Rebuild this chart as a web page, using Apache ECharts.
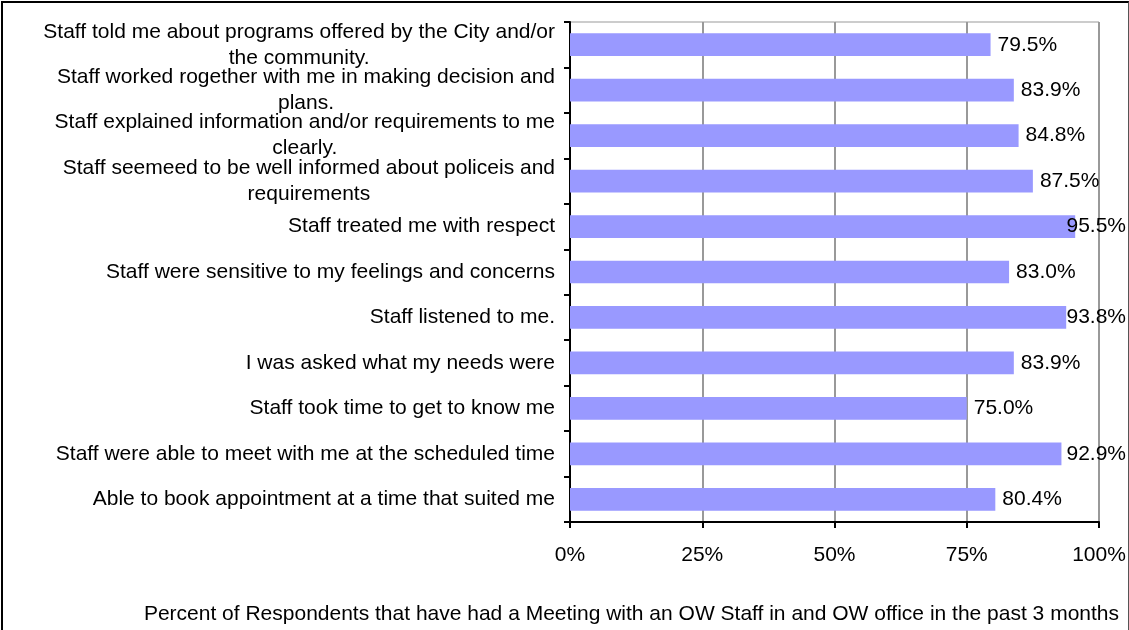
<!DOCTYPE html>
<html>
<head>
<meta charset="utf-8">
<script src="https://cdn.jsdelivr.net/npm/echarts@6/dist/echarts.min.js"></script>
<style>
html,body{margin:0;padding:0;background:#fff;}
#chart{width:1129px;height:630px;position:relative;}
#frame{position:absolute;left:1px;top:1px;width:1125px;height:640px;border:2px solid #000;border-right:1px solid #555;pointer-events:none;}
</style>
</head>
<body>
<div id="chart"></div>
<div id="frame"></div>
<script>
// categories, top to bottom as in the picture
var questions = [
  "Staff told me about programs offered by the City and/or\nthe community.",
  "Staff worked rogether with me in making decision and\nplans.",
  "Staff explained information and/or requirements to me\nclearly.",
  "Staff seemeed to be well informed about policeis and\nrequirements",
  "Staff treated me with respect",
  "Staff were sensitive to my feelings and concerns",
  "Staff listened to me.",
  "I was asked what my needs were",
  "Staff took time to get to know me",
  "Staff were able to meet with me at the scheduled time",
  "Able to book appointment at a time that suited me"
];
var percents = [79.5, 83.9, 84.8, 87.5, 95.5, 83.0, 93.8, 83.9, 75.0, 92.9, 80.4];
var axisTitle = "Percent of Respondents that have had a Meeting with an OW Staff in and OW office in the past 3 months";

var font = "'Liberation Sans', Arial, sans-serif";
var fs = 21;
var chart = echarts.init(document.getElementById('chart'));

var option = {
  animation: false,
  title: {
    text: axisTitle,
    right: 5,
    top: 599,
    textStyle: {fontFamily: font, fontSize: fs, fontWeight: 'normal', color: '#000'}
  },
  grid: {left: 570, right: 30, top: 22, bottom: 108, show: true, borderColor: '#999', borderWidth: 1},
  xAxis: {
    type: 'value',
    min: 0, max: 100, interval: 25,
    axisLine: {show: true, lineStyle: {color: '#000', width: 2}},
    axisTick: {show: true, length: 6, lineStyle: {color: '#000', width: 2}},
    axisLabel: {formatter: '{value}%', fontFamily: font, fontSize: fs, color: '#000', margin: 23},
    splitLine: {show: true, lineStyle: {color: '#999', width: 2}}
  },
  yAxis: {
    type: 'category',
    inverse: true,
    data: questions,
    axisLine: {show: true, lineStyle: {color: '#000', width: 2}},
    axisTick: {show: true, length: 6, lineStyle: {color: '#000', width: 2}},
    axisLabel: {
      interval: 0,
      margin: 15,
      fontFamily: font, fontSize: fs, color: '#000',
      formatter: function (v) {
        var parts = v.split('\n');
        if (parts.length < 2) return v;
        return '{a|' + parts[0] + '}\n{c|' + parts[1] + '}';
      },
      rich: {
        a: {fontFamily: font, fontSize: fs, color: '#000', lineHeight: 26},
        c: {fontFamily: font, fontSize: fs, color: '#000', lineHeight: 26, align: 'center'}
      }
    }
  },
  series: [{
    type: 'bar',
    data: percents,
    barWidth: '50%',
    itemStyle: {color: '#9999FF'},
    label: {
      show: true,
      position: 'right',
      distance: 7,
      fontFamily: font, fontSize: fs, color: '#000',
      formatter: function (p) { return p.value.toFixed(1) + '%'; }
    },
    // keep labels inside the chart frame, like the original does
    labelLayout: function (params) {
      var r = params.labelRect;
      var limit = chart.getWidth() - 3;
      if (r.x + r.width > limit) {
        return {x: limit - r.width, y: r.y + r.height / 2, align: 'left', verticalAlign: 'middle'};
      }
      return {};
    }
  }]
};
chart.setOption(option);
</script>
</body>
</html>
